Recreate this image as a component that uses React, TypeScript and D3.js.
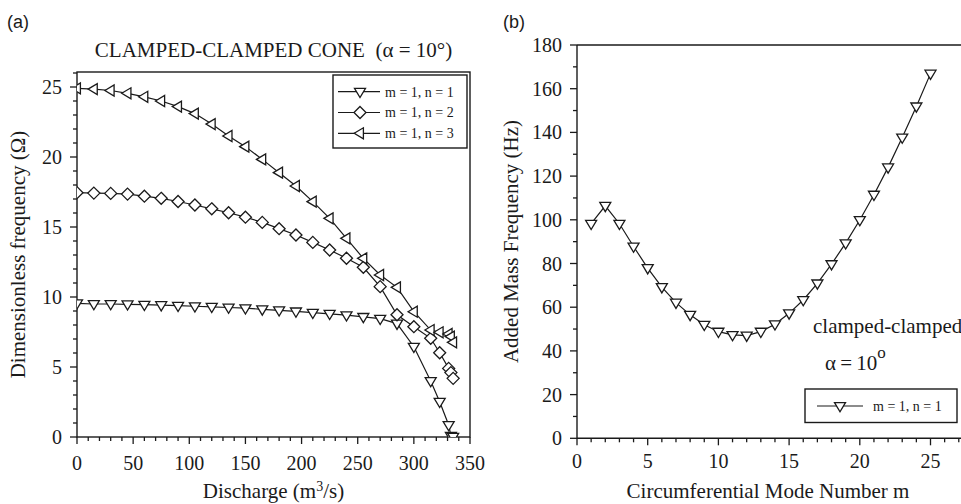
import React from "react";
import * as d3 from "d3";

// ---------- Data: panel (a) ----------
const discharge = [0, 15, 30, 45, 60, 75, 90, 105, 120, 135, 150, 165, 180, 195, 210, 225, 240, 255, 270, 285, 300, 315, 323, 331, 333, 335];
const omegaN1 = [9.55, 9.5, 9.5, 9.48, 9.45, 9.42, 9.38, 9.34, 9.3, 9.25, 9.2, 9.12, 9.05, 8.97, 8.88, 8.8, 8.7, 8.58, 8.45, 8.1, 6.45, 4.0, 2.52, 0.86, 0.08, 0.02];
const omegaN2 = [17.45, 17.42, 17.4, 17.35, 17.2, 17.05, 16.82, 16.57, 16.3, 16.02, 15.7, 15.33, 14.88, 14.43, 13.9, 13.36, 12.77, 12.12, 10.74, 8.73, 7.88, 7.05, 6.02, 4.9, 4.6, 4.19];
const omegaN3 = [24.9, 24.85, 24.75, 24.55, 24.3, 24.0, 23.6, 23.1, 22.35, 21.5, 20.74, 19.83, 18.88, 17.93, 16.81, 15.62, 14.19, 12.76, 11.57, 10.69, 8.95, 7.64, 7.48, 7.36, 7.17, 6.76];
const leftXTicks = [0, 50, 100, 150, 200, 250, 300, 350];
const leftYTicks = [0, 5, 10, 15, 20, 25];
const leftLegend = ["m = 1, n = 1", "m = 1, n = 2", "m = 1, n = 3"];

// ---------- Data: panel (b) ----------
const modeM = [1, 2, 3, 4, 5, 6, 7, 8, 9, 10, 11, 12, 13, 14, 15, 16, 17, 18, 19, 20, 21, 22, 23, 24, 25];
const addedMassFreq = [98.2, 106.4, 98.2, 87.8, 77.9, 69.2, 62.1, 56.5, 52.0, 48.8, 47.3, 47.0, 48.8, 52.2, 57.2, 63.3, 70.9, 79.7, 89.3, 99.9, 111.5, 124.0, 137.7, 151.9, 166.9];
const rightXTicks = [0, 5, 10, 15, 20, 25];
const rightYTicks = [0, 20, 40, 60, 80, 100, 120, 140, 160, 180];
const rightLegend = "m = 1, n = 1";

const SERIF = "'Liberation Serif', 'Times New Roman', serif";
const SANS = "'Liberation Sans', Arial, sans-serif";
const INK = "#1a1a1a";

type MType = "down" | "diamond" | "left";
function markerPath(t: MType): string {
  if (t === "down") return "M-5.5,-3.4L5.5,-3.4L0,5.8Z";
  if (t === "left") return "M-5.8,0L3.4,-5.5L3.4,5.5Z";
  return "M0,-6L6,0L0,6L-6,0Z";
}

export default function App() {
  const ax = d3.scaleLinear().domain([0, 350]).range([77, 470]);
  const ay = d3.scaleLinear().domain([0, 26]).range([437, 73]);
  const bx = d3.scaleLinear().domain([0, 30]).range([577, 577 + 30 * 14.14]);
  const by = d3.scaleLinear().domain([0, 180]).range([438.3, 45]);

  const lineA = d3.line<[number, number]>().x((d) => ax(d[0])).y((d) => ay(d[1]));
  const lineB = d3.line<[number, number]>().x((d) => bx(d[0])).y((d) => by(d[1]));

  const seriesA: { vals: number[]; m: MType }[] = [
    { vals: omegaN1, m: "down" },
    { vals: omegaN2, m: "diamond" },
    { vals: omegaN3, m: "left" },
  ];

  const aMinorX = d3.range(0, 351, 10);
  const aMinorY = d3.range(0, 26.01, 1);
  const bMinorX = d3.range(0, 31, 1);
  const bMinorY = d3.range(0, 181, 10);

  return (
    <svg width={961} height={504} style={{ display: "block", position: "absolute", left: 0, top: 0, background: "#fff" }}>
      <defs>
        <clipPath id="clipA">
          <rect x={77} y={72} width={393} height={365} />
        </clipPath>
        <clipPath id="clipB">
          <rect x={577} y={45} width={400} height={394} />
        </clipPath>
      </defs>
      <rect x={0} y={0} width={961} height={504} fill="#fff" />

      {/* ===== Panel (a) ===== */}
      <text x={7} y={28} fontFamily={SANS} fontSize={18} fill={INK}>(a)</text>
      <text x={273.5} y={57} textAnchor="middle" fontFamily={SERIF} fontSize={21} fill={INK} style={{ whiteSpace: "pre" }}>
        {"CLAMPED-CLAMPED CONE  (α = 10°)"}
      </text>

      {aMinorX.map((v) => (
        <line key={"amx" + v} x1={ax(v)} x2={ax(v)} y1={437} y2={v % 50 === 0 ? 444 : 441} stroke={INK} strokeWidth={1.3} />
      ))}
      {aMinorY.map((v) => (
        <line key={"amy" + v} x1={v % 5 === 0 ? 70 : 73} x2={77} y1={ay(v)} y2={ay(v)} stroke={INK} strokeWidth={1.3} />
      ))}
      {leftXTicks.map((v) => (
        <text key={"axl" + v} x={ax(v)} y={470} textAnchor="middle" fontFamily={SERIF} fontSize={20} fill={INK}>{v}</text>
      ))}
      {leftYTicks.map((v) => (
        <text key={"ayl" + v} x={62} y={ay(v)} dy="0.35em" textAnchor="end" fontFamily={SERIF} fontSize={20} fill={INK}>{v}</text>
      ))}

      <rect x={77} y={72} width={393} height={365} fill="none" stroke={INK} strokeWidth={1.4} />

      <g clipPath="url(#clipA)">
        {seriesA.map((s, i) => (
          <path key={"al" + i} d={lineA(discharge.map((x, j) => [x, s.vals[j]] as [number, number])) || ""} fill="none" stroke={INK} strokeWidth={1.2} />
        ))}
        {seriesA.map((s, i) =>
          discharge.map((x, j) => (
            <path key={"am" + i + "-" + j} d={markerPath(s.m)} transform={`translate(${ax(x)},${ay(s.vals[j])})`} fill="#fff" stroke={INK} strokeWidth={1.3} />
          ))
        )}
      </g>

      <rect x={333} y={75} width={134} height={73} fill="#fff" stroke={INK} strokeWidth={1.4} />
      {leftLegend.map((lab, i) => {
        const yy = 91.7 + i * 20.8;
        return (
          <g key={"lg" + i}>
            <line x1={338} x2={380} y1={yy} y2={yy} stroke={INK} strokeWidth={1.2} />
            <path d={markerPath(seriesA[i].m)} transform={`translate(360,${yy})`} fill="#fff" stroke={INK} strokeWidth={1.3} />
            <text x={385} y={yy} dy="0.35em" fontFamily={SERIF} fontSize={14} fill={INK}>{lab}</text>
          </g>
        );
      })}

      <text x={273.5} y={498} textAnchor="middle" fontFamily={SERIF} fontSize={21} fill={INK}>
        Discharge (m<tspan fontSize={14} dy={-7}>3</tspan><tspan dy={7}>/s)</tspan>
      </text>
      <text transform="translate(25,254.5) rotate(-90)" textAnchor="middle" fontFamily={SERIF} fontSize={21} fill={INK}>
        Dimensionless frequency (Ω)
      </text>

      {/* ===== Panel (b) ===== */}
      <text x={503} y={28} fontFamily={SANS} fontSize={18} fill={INK}>(b)</text>

      {bMinorX.map((v) => (
        <line key={"bmx" + v} x1={bx(v)} x2={bx(v)} y1={438.3} y2={v % 5 === 0 ? 445.3 : 442.3} stroke={INK} strokeWidth={1.3} />
      ))}
      {bMinorY.map((v) => (
        <line key={"bmy" + v} x1={v % 20 === 0 ? 570 : 573} x2={577} y1={by(v)} y2={by(v)} stroke={INK} strokeWidth={1.3} />
      ))}
      {rightXTicks.map((v) => (
        <text key={"bxl" + v} x={bx(v)} y={468} textAnchor="middle" fontFamily={SERIF} fontSize={20} fill={INK}>{v}</text>
      ))}
      {rightYTicks.map((v) => (
        <text key={"byl" + v} x={562} y={by(v)} dy="0.35em" textAnchor="end" fontFamily={SERIF} fontSize={20} fill={INK}>{v}</text>
      ))}

      <line x1={577} x2={1000} y1={45} y2={45} stroke={INK} strokeWidth={1.4} />
      <line x1={577} x2={1000} y1={438.3} y2={438.3} stroke={INK} strokeWidth={1.4} />
      <line x1={577} x2={577} y1={45} y2={438.3} stroke={INK} strokeWidth={1.4} />

      <g clipPath="url(#clipB)">
        <path d={lineB(modeM.map((m, j) => [m, addedMassFreq[j]] as [number, number])) || ""} fill="none" stroke={INK} strokeWidth={1.2} />
        {modeM.map((m, j) => (
          <path key={"bm" + j} d={markerPath("down")} transform={`translate(${bx(m)},${by(addedMassFreq[j])})`} fill="#fff" stroke={INK} strokeWidth={1.3} />
        ))}
      </g>

      <text x={813} y={333} fontFamily={SERIF} fontSize={21} fill={INK}>clamped-clamped</text>
      <text x={825} y={370} fontFamily={SERIF} fontSize={21} fill={INK}>
        {"α\u2009=\u200910"}<tspan fontSize={17} dy={-12}>o</tspan>
      </text>

      <rect x={805} y={389} width={152} height={33.5} fill="#fff" stroke={INK} strokeWidth={1.4} />
      <line x1={817} x2={863} y1={406} y2={406} stroke={INK} strokeWidth={1.2} />
      <path d={markerPath("down")} transform="translate(840,406)" fill="#fff" stroke={INK} strokeWidth={1.3} />
      <text x={873} y={406} dy="0.35em" fontFamily={SERIF} fontSize={14} fill={INK}>{rightLegend}</text>

      <text x={768} y={498} textAnchor="middle" fontFamily={SERIF} fontSize={21} fill={INK}>
        Circumferential Mode Number m
      </text>
      <text transform="translate(518,241.5) rotate(-90)" textAnchor="middle" fontFamily={SERIF} fontSize={21} fill={INK}>
        Added Mass Frequency (Hz)
      </text>
    </svg>
  );
}
